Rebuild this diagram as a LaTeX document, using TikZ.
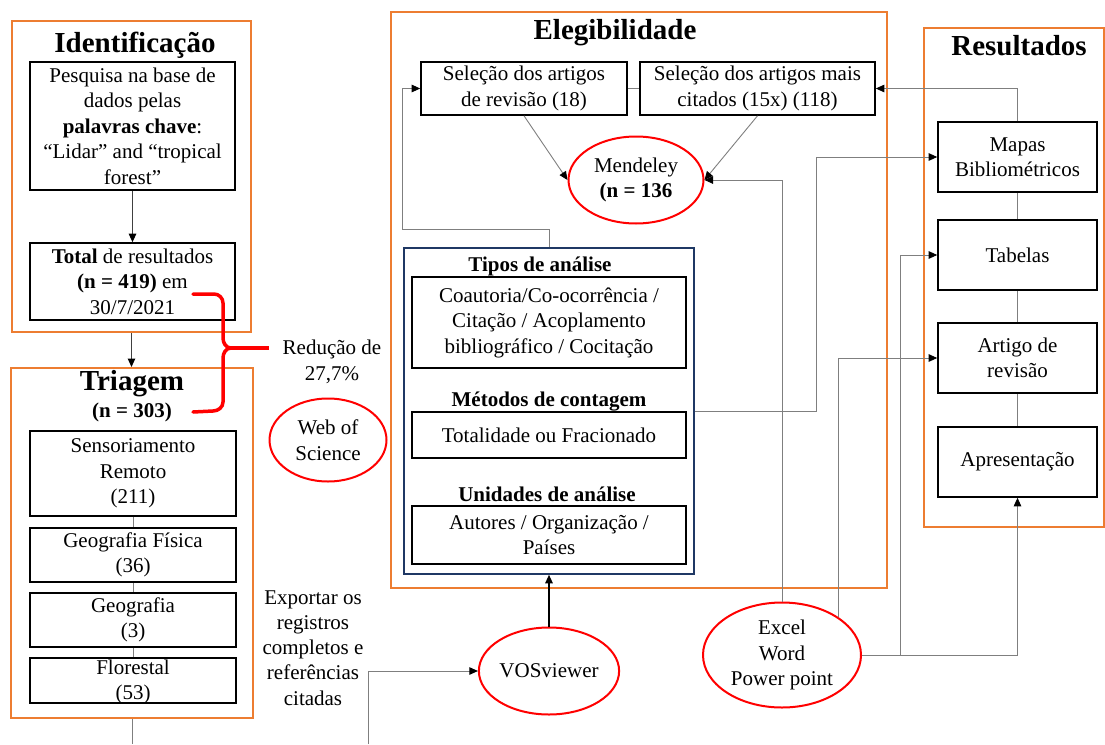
\documentclass[tikz,border=0pt]{standalone}
\usepackage{fontspec}
\setmainfont{Liberation Serif}
\usetikzlibrary{arrows.meta,shapes.geometric}
\definecolor{orng}{HTML}{ED7D31}
\definecolor{navy}{HTML}{1F3864}
\definecolor{conn}{HTML}{7F7F7F}
\definecolor{redc}{HTML}{FF0000}
\begin{document}
\begin{tikzpicture}[x=1pt,y=-1pt,
  body/.style={font=\fontsize{21}{25.5}\selectfont},
  bodyb/.style={font=\fontsize{21}{25.5}\selectfont\bfseries},
  ttl/.style={font=\fontsize{29}{33}\selectfont\bfseries},
  obox/.style={draw=orng, line width=2pt, rectangle, inner sep=0pt},
  bbox/.style={draw=navy, line width=1.6pt, rectangle, inner sep=0pt},
  kbox/.style={draw=black, line width=1.6pt, rectangle, inner sep=0pt, align=center, body},
  rell/.style={draw=redc, line width=2pt, ellipse, inner sep=0pt, align=center, body},
  lbl/.style={align=center, inner sep=0pt},
  conn/.style={draw=conn, line width=0.9pt},
  arr/.style={conn, -{Triangle[length=8.5pt,width=7.5pt,color=black]}},
  darr/.style={draw=black!75, line width=1pt, -{Triangle[length=8.5pt,width=7.5pt,color=black]}}
]
\useasboundingbox (0,0) rectangle (1105,744);

% ---------- Identificacao ----------
\node[obox, minimum width=239pt, minimum height=311pt] (ident) at (131.5,176.5) {};
\node[lbl, ttl] (identT) at (135,45) {Identificação};
\node[kbox, minimum width=205pt, minimum height=128pt] (pesq) at (132.5,126)
  {Pesquisa na base de\\dados pelas\\\textbf{palavras chave}:\\“Lidar” and “tropical\\forest”};
\node[kbox, minimum width=205pt, minimum height=77pt] (total) at (132.5,281.5)
  {\textbf{Total} de resultados\\\textbf{(n = 419)} em\\30/7/2021};
\draw[darr] (pesq.south) -- (total.north);

% ---------- Triagem ----------
\node[obox, minimum width=242pt, minimum height=350pt] (triag) at (132,543) {};
\draw[darr] (ident.south) -- (ident.south |- triag.north);
\node[lbl, ttl] (triagT) at (132,384) {Triagem};
\node[lbl, bodyb] (triagN) at (132,412) {(n = 303)};
\node[kbox, minimum width=206pt, minimum height=85pt] (sens) at (133,473.5) {Sensoriamento\\Remoto\\(211)};
\node[kbox, minimum width=206pt, minimum height=54pt] (geof) at (133,555) {Geografia Física\\(36)};
\node[kbox, minimum width=206pt, minimum height=54pt] (geo) at (133,620) {Geografia\\(3)};
\node[kbox, minimum width=206pt, minimum height=45pt] (flor) at (133,680.5) {};
\node[lbl, body] (florT) at (133,682) {Florestal\\(53)};
\draw[conn] (sens.south) -- (geof.north);
\draw[conn] (geof.south) -- (geo.north);
\draw[conn] (geo.south) -- (flor.north);
\coordinate (bot1) at (132,744);
\draw[conn] (triag.south) -- (bot1);

% ---------- Reducao ----------
\draw[redc, line width=3.5pt, line cap=round, line join=round]
  (193,294) -- (214,294) to[out=0,in=90] (223,303) -- (223,338)
  to[out=-90,in=180] (231,348) to[out=180,in=90] (223,358) -- (223,402)
  to[out=-90,in=0] (213,411) -- (193,412);
\draw[redc, line width=3.5pt] (230,348) -- (269,348);
\node[lbl, body] (reduc) at (332,362) {Redução de\\27,7\%};
\node[rell, minimum width=117pt, minimum height=83pt] (wos) at (328,440) {Web of\\Science};

% ---------- Exportar ----------
\node[lbl, font=\fontsize{21}{25.2}\selectfont] (export) at (313,648) {Exportar os\\registros\\completos e\\referências\\citadas};

% ---------- Elegibilidade ----------
\node[obox, minimum width=496pt, minimum height=576pt] (eleg) at (639,300) {};
\node[lbl, ttl] (elegT) at (615,33) {Elegibilidade};
\node[kbox, minimum width=206pt, minimum height=53pt] (sel1) at (524,88.5) {Seleção dos artigos\\de revisão (18)};
\node[kbox, minimum width=235pt, minimum height=53pt] (sel2) at (757.5,88.5) {Seleção dos artigos mais\\citados (15x) (118)};
\draw[conn] (sel1.east) -- (sel2.west);
\node[rell, minimum width=135pt, minimum height=87pt] (mend) at (636,180) {Mendeley\\\textbf{(n = 136}};
\draw[arr] (sel1.south) -- (mend.west);
\draw[arr] (sel2.south) -- (mend.east);

\node[bbox, minimum width=290pt, minimum height=326pt] (blue) at (549,411) {};
\node[lbl, bodyb] (tipos) at (540,266) {Tipos de análise};
\node[kbox, minimum width=274pt, minimum height=91pt] (coaut) at (549,322.5) {Coautoria/Co-ocorrência /\\Citação / Acoplamento\\bibliográfico / Cocitação};
\node[lbl, bodyb] (metod) at (549,402) {Métodos de contagem};
\node[kbox, minimum width=274pt, minimum height=46pt] (totl) at (549,435) {Totalidade ou Fracionado};
\node[lbl, bodyb] (unid) at (547,494) {Unidades de análise};
\node[kbox, minimum width=274pt, minimum height=58pt] (autor) at (549,535) {Autores / Organização /\\Países};

\coordinate (c1) at (402,229);
\draw[arr] (blue.north) |- (c1) |- (sel1.west);

% ---------- Resultados ----------
\node[obox, minimum width=180pt, minimum height=499pt] (res) at (1014,277.5) {};
\node[lbl, ttl] (resT) at (1019,46) {Resultados};
\node[kbox, minimum width=159pt, minimum height=70pt] (mapas) at (1017.5,157) {Mapas\\Bibliométricos};
\node[kbox, minimum width=159pt, minimum height=70pt] (tab) at (1017.5,255) {Tabelas};
\node[kbox, minimum width=159pt, minimum height=70pt] (artg) at (1017.5,358) {Artigo de\\revisão};
\node[kbox, minimum width=159pt, minimum height=70pt] (apres) at (1017.5,462) {Apresentação};
\draw[conn] (mapas.south) -- (tab.north);
\draw[conn] (tab.south) -- (artg.north);
\draw[conn] (artg.south) -- (apres.north);
\draw[arr] (mapas.north) |- (sel2.east);

% ---------- Tools ----------
\node[rell, minimum width=135pt, minimum height=87pt] (vos) at (549,671) {VOSviewer};
\node[rell, minimum width=158pt, minimum height=105pt] (excel) at (782,655) {Excel\\Word\\Power point};
\draw[draw=black, line width=1.2pt, -{Triangle[length=8.5pt,width=7.5pt,color=black]}] (vos.north) -- (blue.south);
\coordinate (bot2) at (368,744);
\draw[arr] (bot2) |- (vos.west);

\draw[arr] (excel.north) |- (mend.east);
\coordinate (c2) at (816,157);
\draw[arr] (blue.east |- totl.north) -| (c2) -- (mapas.west);
\draw[arr] (excel.north east) |- (artg.west);
\coordinate (c3) at (900,655);
\draw[conn] (excel.east) -- (c3);
\draw[arr] (c3) |- (tab.west);
\draw[arr] (c3) -| (apres.south);
\end{tikzpicture}
\end{document}
